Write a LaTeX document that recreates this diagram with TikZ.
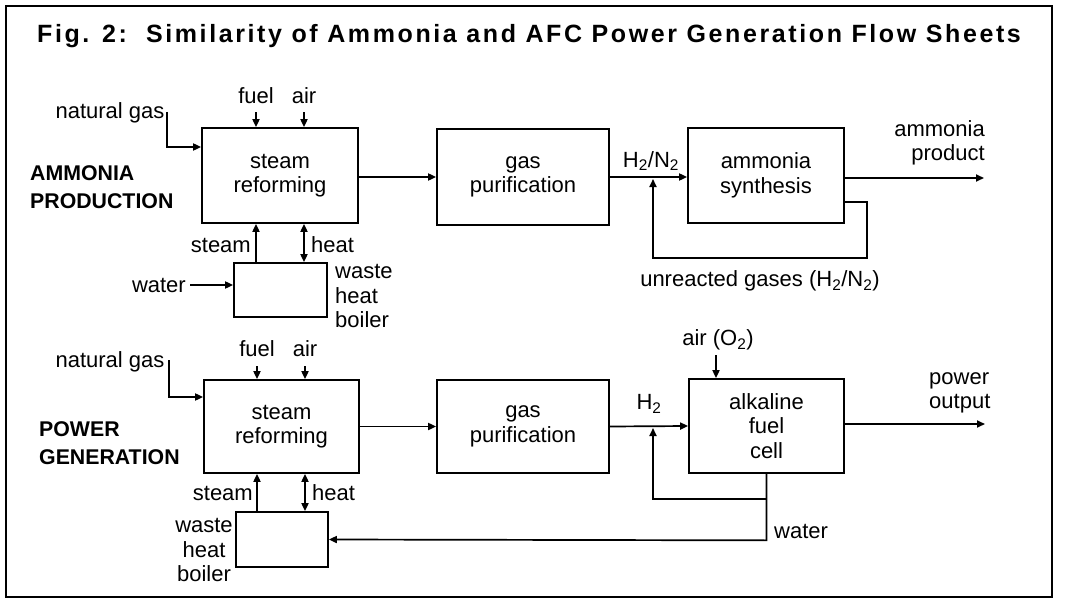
\documentclass[tikz,border=0pt]{standalone}
\usepackage{fontspec}
\setmainfont{Liberation Sans}
\usetikzlibrary{arrows.meta}
\begin{document}
\begin{tikzpicture}[x=1pt,y=-1pt,
  every node/.style={inner sep=0pt},
  txt/.style={font=\fontsize{22}{24.5}\selectfont},
  box/.style={draw, line width=1.7pt, txt, align=center},
  flow/.style={line width=1.7pt, -{Triangle[length=8pt,width=7pt]}},
  dflow/.style={line width=1.7pt, {Triangle[length=8pt,width=7pt]}-{Triangle[length=8pt,width=7pt]}},
  sect/.style={font=\fontsize{21.3}{28}\selectfont\bfseries, align=left}]
\useasboundingbox (0,0) rectangle (1071,599);
\draw[line width=1.5pt] (6,6) rectangle (1052,597);
\node[anchor=base west, font=\fontsize{25}{30}\selectfont\bfseries\addfontfeature{LetterSpace=10.4}] (title) at (37,43)
  {Fig. 2:\ \ Similarity of Ammonia and AFC Power Generation Flow Sheets};

% ---------- ammonia production ----------
\node[box, minimum width=156pt, minimum height=95pt] (sr1) at (280,175.5) {steam\\reforming};
\node[box, minimum width=172pt, minimum height=96pt] (gp1) at (523,177) {gas\\purification};
\node[box, minimum width=156pt, minimum height=95pt] (as1) at (766,175.5) {ammonia\\synthesis};
\node[box, minimum width=93pt, minimum height=54pt] (wb1) at (280.5,290) {};

\node[sect, anchor=west] (amm) at (30,187.5) {AMMONIA\\PRODUCTION};
\node[txt] (ng1) at (110,113) {natural gas};
\node[txt] (fuel1) at (256,96) {fuel};
\node[txt] (air1) at (304,96) {air};
\node[txt, anchor=east] (steam1) at (251,245) {steam};
\node[txt, anchor=west] (heat1) at (311,245) {heat};
\node[txt, anchor=east] (water1) at (186,285) {water};
\node[txt, anchor=west, align=left] (wbl1) at (335,296) {waste\\heat\\boiler};
\node[txt] (h2n2) at (651,161) {H\textsubscript{2}/N\textsubscript{2}};
\node[txt] (unr) at (760,281) {unreacted gases (H\textsubscript{2}/N\textsubscript{2})};
\node[txt, align=right, anchor=east] (ap) at (985,143) {ammonia\\product};

\coordinate (ng1c) at (167,112);
\coordinate (r1) at (867,258);
\coordinate (m1) at (653,179);
\coordinate (ape) at (984,178);

\draw[flow] (ng1c) |- ([yshift=28.5pt]sr1.west);
\draw[flow] ([yshift=-8pt]fuel1.south) -- (fuel1.south |- sr1.north);
\draw[flow] ([yshift=-8pt]air1.south) -- (air1.south |- sr1.north);
\draw[flow] (sr1.east |- gp1.west) -- (gp1.west);
\draw[flow] (gp1.east) -- (gp1.east -| as1.west);
\draw[flow] ([yshift=-26.5pt]as1.east) -| (r1) -| (m1);
\draw[flow] (as1.east |- ape) -- (ape);
\draw[flow] (wb1.north -| fuel1.south) -- (sr1.south -| fuel1.south);
\draw[dflow] (wb1.north -| air1.south) -- (sr1.south -| air1.south);
\draw[flow] ([xshift=4pt]water1.east) -- (water1.east -| wb1.west);

% ---------- power generation ----------
\node[box, minimum width=155pt, minimum height=93pt] (sr2) at (281.5,426.5) {steam\\reforming};
\node[box, minimum width=172pt, minimum height=93pt] (gp2) at (523,426.5) {gas\\purification};
\node[box, minimum width=155pt, minimum height=94pt] (afc) at (766.5,426) {alkaline\\fuel\\cell};
\node[box, minimum width=92pt, minimum height=55pt] (wb2) at (282,539.5) {};

\node[sect, anchor=west] (pow) at (39,443.5) {POWER\\GENERATION};
\node[txt] (ng2) at (110,362) {natural gas};
\node[txt] (fuel2) at (257,349) {fuel};
\node[txt] (air2) at (305,349) {air};
\node[txt, anchor=east] (steam2) at (253,493) {steam};
\node[txt, anchor=west] (heat2) at (312,493) {heat};
\node[txt, align=center] (wbl2) at (204,550) {waste\\heat\\boiler};
\node[txt] (h2) at (649,404) {H\textsubscript{2}};
\node[txt] (airo) at (718,340) {air (O\textsubscript{2})};
\node[txt, align=left, anchor=west] (po) at (929,393) {power\\output};
\node[txt, anchor=west] (water2) at (774,531) {water};

\coordinate (ng2c) at (169,360);
\coordinate (airtop) at (716,355);
\coordinate (m2) at (653,428);
\coordinate (poe) at (985,424);

\draw[flow] (ng2c) |- ([yshift=29.5pt]sr2.west);
\draw[flow] ([yshift=-9pt]fuel2.south) -- (fuel2.south |- sr2.north);
\draw[flow] ([yshift=-9pt]air2.south) -- (air2.south |- sr2.north);
\draw[flow] (sr2.east) -- (gp2.west);
\draw[flow] (gp2.east) -- (afc.west);
\draw[flow] (airtop) -- (airtop |- afc.north);
\draw[flow] (afc.east |- poe) -- (poe);
\draw[flow] (afc.south) -- ++(0,25) -| (m2);
\draw[flow] (afc.south) -- ++(0,66.5) -- (wb2.east);
\draw[flow] (wb2.north -| fuel2.south) -- (sr2.south -| fuel2.south);
\draw[dflow] (wb2.north -| air2.south) -- (sr2.south -| air2.south);
\end{tikzpicture}
\end{document}
